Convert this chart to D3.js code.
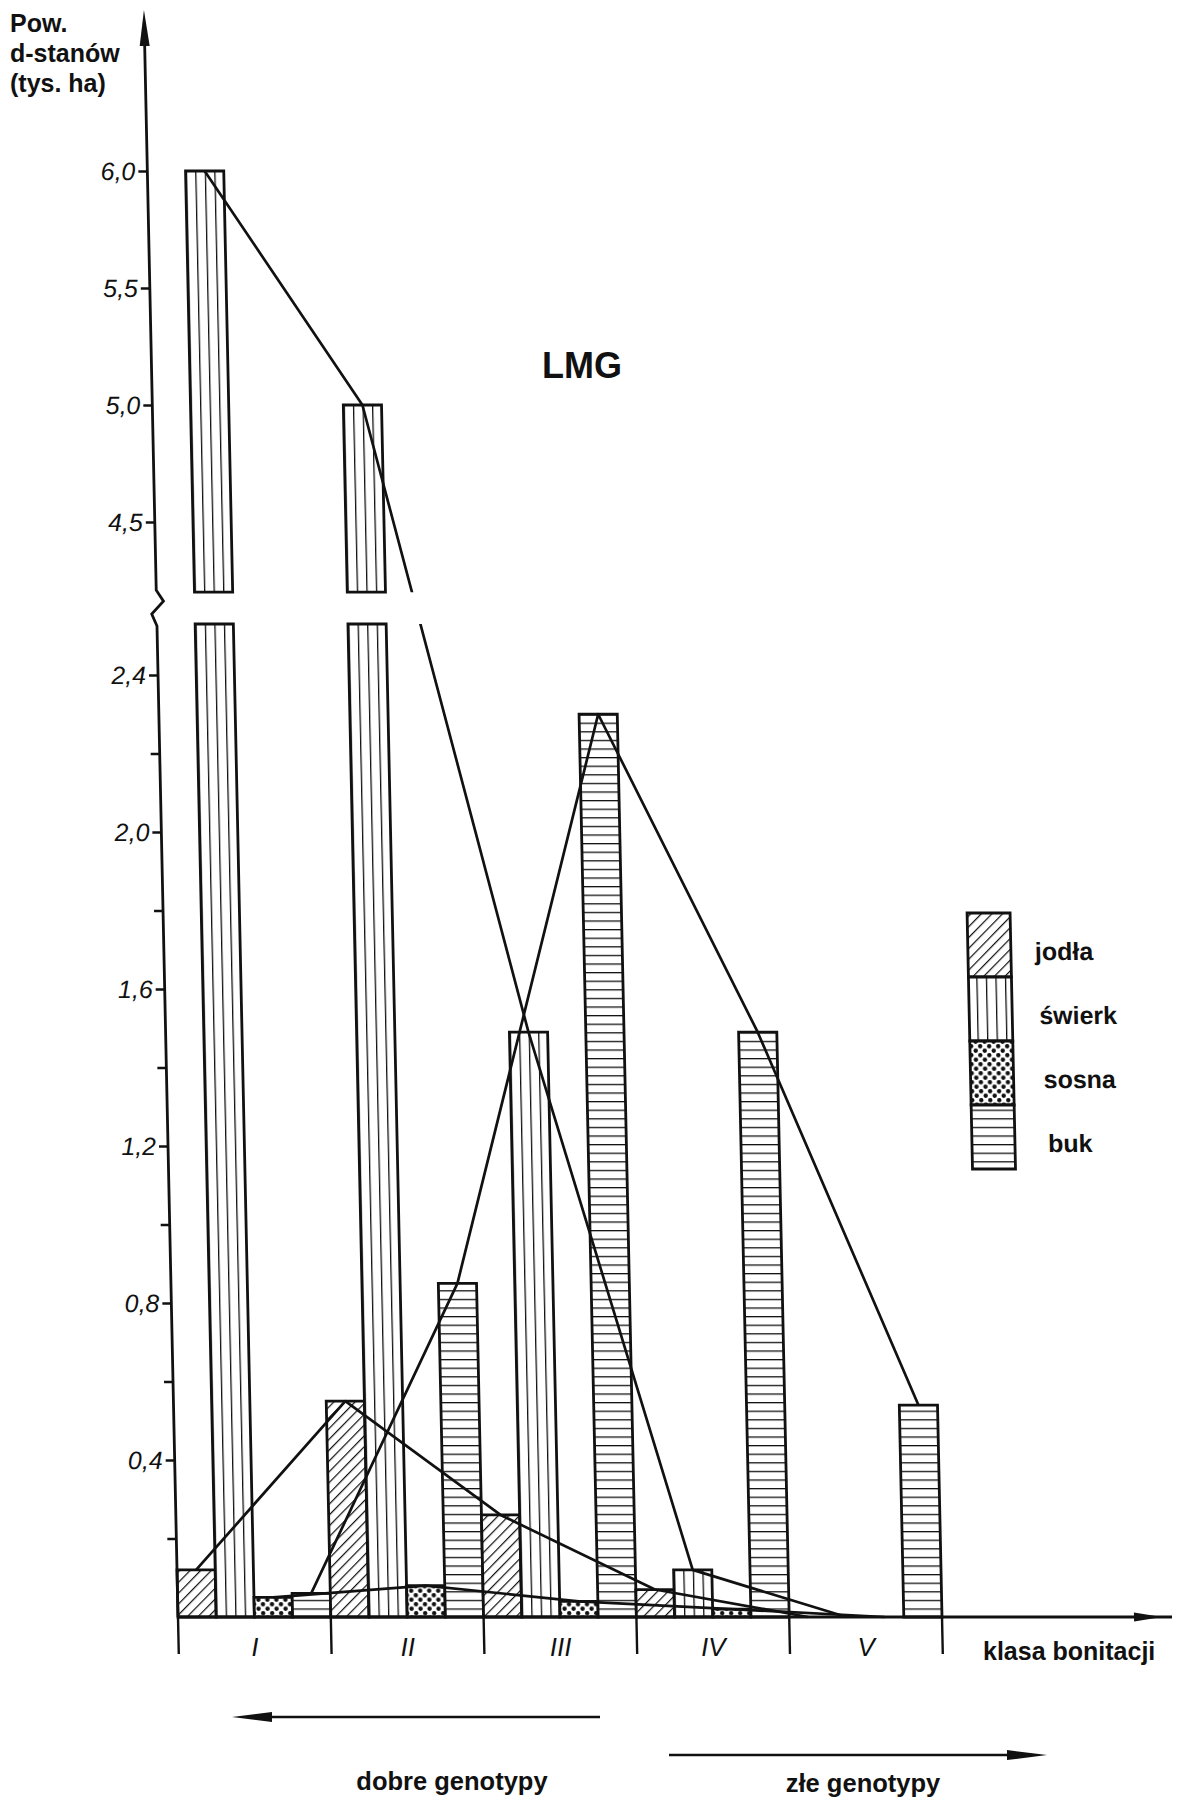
<!DOCTYPE html>
<html><head><meta charset="utf-8">
<script src="https://cdn.jsdelivr.net/npm/d3@7"></script>
<style>body{margin:0;background:#fff}</style>
</head><body>
<svg id="c" width="1180" height="1798" xmlns="http://www.w3.org/2000/svg"></svg>
<script>
// ---------- data ----------
const classes = ["I", "II", "III", "IV", "V"];
const species = ["jodła", "świerk", "sosna", "buk"];
const jodla  = [0.12, 0.55, 0.26, 0.07, 0];
const swierk = [6.0, 5.0, 1.49, 0.12, 0];
const sosna  = [0.05, 0.08, 0.04, 0.02, 0];
const buk    = [0.06, 0.85, 2.30, 1.49, 0.54];
const lowerTicks = [0.4, 0.8, 1.2, 1.6, 2.0, 2.4];
const lowerMinor = [0.2, 0.6, 1.0, 1.4, 1.8, 2.2];
const upperTicks = [4.5, 5.0, 5.5, 6.0];
const seriesValues = [jodla, swierk, sosna, buk];
const patternIds = ["pJod", "pSwi", "pSos", "pBuk"];

// ---------- layout ----------
const svg = d3.select("#c");
const Y0 = 1617;
const AX = 178;
const LOW_MAX = 2.53, UP_MIN = 4.2;
const yLow = d3.scaleLinear().domain([0, 2.4]).range([Y0, Y0 - 2.4 * 392.5]);
const yUp = d3.scaleLinear().domain([4.5, 6.0]).range([522, 171]);
const yMap = v => v <= LOW_MAX ? yLow(v) : yUp(v);
const x = d3.scaleBand().domain(classes).range([AX, 942]).padding(0);
const xs = d3.scaleBand().domain(species).range([0, x.bandwidth()]).padding(0);
const bw = xs.bandwidth();
const skewDeg = Math.atan(0.0212) * 180 / Math.PI;

// ---------- patterns ----------
const defs = svg.append("defs");
const pj = defs.append("pattern").attr("id", "pJod").attr("patternUnits", "userSpaceOnUse")
  .attr("width", 7.5).attr("height", 7.5).attr("patternTransform", "rotate(45)");
pj.append("rect").attr("width", 7.5).attr("height", 7.5).attr("fill", "#fff");
pj.append("line").attr("x1", 0).attr("y1", 0).attr("x2", 0).attr("y2", 7.5)
  .attr("stroke", "#111").attr("stroke-width", 2.4);

const psw = bw / 4;
const ps = defs.append("pattern").attr("id", "pSwi").attr("patternUnits", "userSpaceOnUse")
  .attr("x", AX).attr("width", psw).attr("height", 10);
ps.append("rect").attr("width", psw).attr("height", 10).attr("fill", "#fff");
ps.append("line").attr("x1", 0).attr("y1", 0).attr("x2", 0).attr("y2", 10)
  .attr("stroke", "#111").attr("stroke-width", 2.6);

const po = defs.append("pattern").attr("id", "pSos").attr("patternUnits", "userSpaceOnUse")
  .attr("width", 9).attr("height", 9);
po.append("rect").attr("width", 9).attr("height", 9).attr("fill", "#fff");
[[2.25, 2.25], [6.75, 6.75]].forEach(p =>
  po.append("circle").attr("cx", p[0]).attr("cy", p[1]).attr("r", 2.2).attr("fill", "#111"));

const pb = defs.append("pattern").attr("id", "pBuk").attr("patternUnits", "userSpaceOnUse")
  .attr("y", Y0).attr("width", 10).attr("height", 8.6);
pb.append("rect").attr("width", 10).attr("height", 8.6).attr("fill", "#fff");
pb.append("line").attr("x1", 0).attr("y1", 0).attr("x2", 10).attr("y2", 0)
  .attr("stroke", "#111").attr("stroke-width", 2.6);

// clip path removing the axis-break gap from the polylines
const cp = defs.append("clipPath").attr("id", "gapClip").attr("clipPathUnits", "userSpaceOnUse");
cp.append("rect").attr("x", -500).attr("y", -100).attr("width", 2500).attr("height", yUp(UP_MIN) + 100);
cp.append("rect").attr("x", -500).attr("y", yLow(LOW_MAX)).attr("width", 2500).attr("height", 2000);

// ---------- skewed chart group (scan shear) ----------
const g = svg.append("g")
  .attr("transform", `translate(0,${Y0}) skewX(${skewDeg}) translate(0,${-Y0})`);

// bars
classes.forEach((c, i) => {
  species.forEach((s, j) => {
    const v = seriesValues[j][i];
    if (!(v > 0)) return;
    const bx = x(c) + xs(s);
    const fill = `url(#${patternIds[j]})`;
    const segs = v <= LOW_MAX ? [[yLow(v), Y0]] : [[yLow(LOW_MAX), Y0], [yUp(v), yUp(UP_MIN)]];
    segs.forEach(sg => {
      g.append("rect").attr("x", bx).attr("y", sg[0]).attr("width", bw).attr("height", sg[1] - sg[0])
        .attr("fill", fill).attr("stroke", "#111").attr("stroke-width", 2.8);
    });
  });
});

// polylines through bar-top centres
const line = d3.line().x(d => d[0]).y(d => d[1]);
species.forEach((s, j) => {
  const pts = classes.map((c, i) => [x(c) + xs(s) + bw / 2, yMap(seriesValues[j][i])]);
  g.append("path").attr("d", line(pts)).attr("fill", "none")
    .attr("stroke", "#111").attr("stroke-width", 2.7).attr("stroke-linejoin", "round")
    .attr("clip-path", "url(#gapClip)");
});

// y axis line with break + arrow
const ybTop = yUp(UP_MIN), ybBot = yLow(LOW_MAX);
g.append("path")
  .attr("d", `M${AX},${Y0} L${AX},${ybBot + 2} L${AX - 5},${ybBot - 10} L${AX + 7},${ybTop + 9} L${AX},${ybTop - 2} L${AX},40`)
  .attr("fill", "none").attr("stroke", "#111").attr("stroke-width", 2.8);
g.append("path").attr("d", `M${AX},10 L${AX - 5},46 L${AX + 5},46 Z`).attr("fill", "#111");

// y ticks
const fmt = d => d.toFixed(1).replace(".", ",");
function styleAxis(sel) {
  sel.select(".domain").remove();
  sel.selectAll(".tick line").attr("stroke", "#111").attr("stroke-width", 2.4);
  sel.selectAll(".tick text").attr("fill", "#111")
    .style("font-family", "'Liberation Sans', Arial, sans-serif")
    .style("font-style", "italic").style("font-size", "25px");
}
g.append("g").attr("transform", `translate(${AX},0)`)
  .call(d3.axisLeft(yLow).tickValues(lowerTicks).tickFormat(fmt).tickSize(9).tickPadding(3))
  .call(styleAxis);
g.append("g").attr("transform", `translate(${AX},0)`)
  .call(d3.axisLeft(yLow).tickValues(lowerMinor).tickFormat("").tickSize(9))
  .call(styleAxis);
g.append("g").attr("transform", `translate(${AX},0)`)
  .call(d3.axisLeft(yUp).tickValues(upperTicks).tickFormat(fmt).tickSize(9).tickPadding(3))
  .call(styleAxis);

// x axis baseline + arrow
g.append("line").attr("x1", AX).attr("y1", Y0).attr("x2", 1172).attr("y2", Y0)
  .attr("stroke", "#111").attr("stroke-width", 2.8);
g.append("path").attr("d", `M1162,${Y0} L1134,${Y0 - 4.5} L1134,${Y0 + 4.5} Z`).attr("fill", "#111");

// class separators and labels
const bounds = classes.map(c => x(c)).concat([x.range()[1]]);
g.selectAll("line.sep").data(bounds).enter().append("line")
  .attr("x1", d => d).attr("x2", d => d).attr("y1", Y0).attr("y2", Y0 + 37)
  .attr("stroke", "#111").attr("stroke-width", 2.4);
g.selectAll("text.cls").data(classes).enter().append("text")
  .attr("x", d => x(d) + x.bandwidth() / 2).attr("y", 1656)
  .attr("text-anchor", "middle")
  .style("font-family", "'Liberation Sans', Arial, sans-serif")
  .style("font-style", "italic").style("font-size", "26px").attr("fill", "#111")
  .text(d => d);

// legend
const LX = 982, LY = 913, LH = 64, LW = 43;
species.forEach((s, j) => {
  g.append("rect").attr("x", LX).attr("y", LY + j * LH).attr("width", LW).attr("height", LH)
    .attr("fill", `url(#${patternIds[j]})`).attr("stroke", "#111").attr("stroke-width", 2.8);
  g.append("text").attr("x", LX + 67 + j * 3).attr("y", LY + j * LH + 47)
    .style("font-family", "'Liberation Sans', Arial, sans-serif")
    .style("font-weight", "bold").style("font-size", "25px").attr("fill", "#111")
    .text(s);
});

// ---------- unskewed texts ----------
const T = (txt, xx, yy, size, anchor) => svg.append("text").attr("x", xx).attr("y", yy)
  .attr("text-anchor", anchor || "start")
  .style("font-family", "'Liberation Sans', Arial, sans-serif")
  .style("font-weight", "bold").style("font-size", size + "px").attr("fill", "#111").text(txt);

T("Pow.", 10, 32, 25);
T("d-stanów", 10, 62, 25);
T("(tys. ha)", 10, 92, 25);
T("LMG", 542, 378, 36);
T("klasa bonitacji", 983, 1660, 25);

// bottom arrows
svg.append("line").attr("x1", 250).attr("y1", 1717).attr("x2", 600).attr("y2", 1717)
  .attr("stroke", "#111").attr("stroke-width", 2.6);
svg.append("path").attr("d", "M232,1717 L272,1712 L272,1722 Z").attr("fill", "#111");
T("dobre genotypy", 452, 1790, 25.5, "middle");
svg.append("line").attr("x1", 669).attr("y1", 1755).attr("x2", 1030).attr("y2", 1755)
  .attr("stroke", "#111").attr("stroke-width", 2.6);
svg.append("path").attr("d", "M1047,1755 L1007,1750 L1007,1760 Z").attr("fill", "#111");
T("złe genotypy", 863, 1792, 25.5, "middle");
</script>
</body></html>
